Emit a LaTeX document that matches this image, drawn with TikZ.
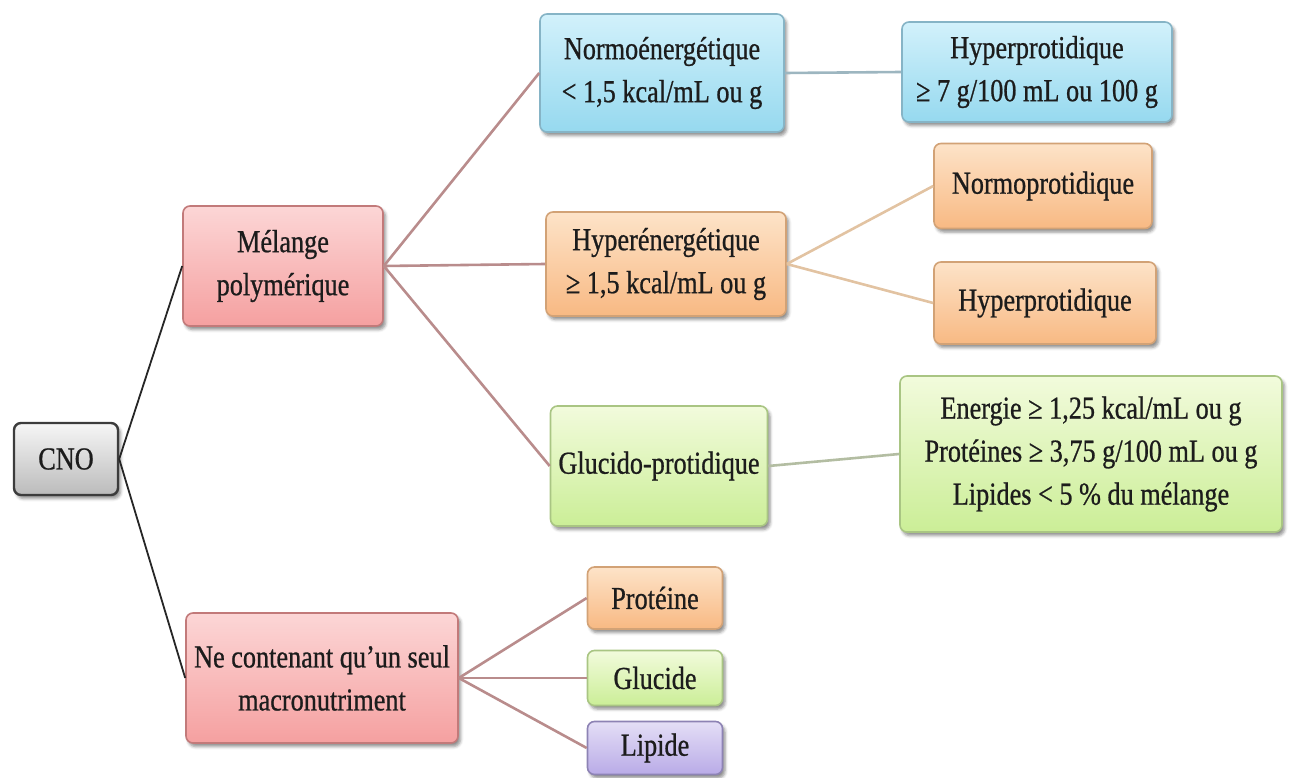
\documentclass[tikz,border=0pt]{standalone}
\usepackage{fontspec}
\setmainfont{Liberation Serif}[FakeStretch=0.82,FakeBold=0.7]
\usetikzlibrary{shadows.blur}
\newcommand\cnotxt{\fontsize{32}{43}\selectfont}
\definecolor{txt}{HTML}{1C1C1C}
\definecolor{pinkd}{HTML}{C27A7A}\definecolor{pinkt}{HTML}{FCD6D6}\definecolor{pinkb}{HTML}{F5A0A0}
\definecolor{blued}{HTML}{86B4C6}\definecolor{bluet}{HTML}{D2F1FB}\definecolor{blueb}{HTML}{96D9EF}
\definecolor{orad}{HTML}{D2A276}\definecolor{orat}{HTML}{FDE3C8}\definecolor{orab}{HTML}{F8B983}
\definecolor{greend}{HTML}{A9C583}\definecolor{greent}{HTML}{F2FBDC}\definecolor{greenb}{HTML}{CBEE97}
\definecolor{purd}{HTML}{8D83B4}\definecolor{purt}{HTML}{E4DEF6}\definecolor{purb}{HTML}{B9ABE7}
\definecolor{grayd}{HTML}{3C3C3C}\definecolor{grayt}{HTML}{F6F6F6}\definecolor{grayb}{HTML}{BBBBBB}
\definecolor{rosel}{HTML}{B98C8C}\definecolor{bluel}{HTML}{9DB6C0}\definecolor{tanl}{HTML}{E2C3A2}\definecolor{greenl}{HTML}{B3BDA2}
\tikzset{
  basebox/.style={draw, rounded corners=7pt, line width=1.6pt, align=center, inner sep=3pt,
    font=\cnotxt, text=txt,
    blur shadow={shadow xshift=2.5pt, shadow yshift=-3.5pt, shadow blur radius=3pt, shadow opacity=45}},
  pinkbox/.style={basebox, draw=pinkd, top color=pinkt, bottom color=pinkb},
  bluebox/.style={basebox, draw=blued, top color=bluet, bottom color=blueb},
  orabox/.style={basebox, draw=orad, top color=orat, bottom color=orab},
  greenbox/.style={basebox, draw=greend, top color=greent, bottom color=greenb},
  purbox/.style={basebox, draw=purd, top color=purt, bottom color=purb},
  graybox/.style={basebox, draw=grayd, line width=2.4pt, top color=grayt, bottom color=grayb},
  blackline/.style={draw=black!85, line width=1.8pt},
  roseline/.style={draw=rosel, line width=2.6pt},
  blueline/.style={draw=bluel, line width=2.6pt},
  tanline/.style={draw=tanl, line width=2.6pt},
  greenline/.style={draw=greenl, line width=2.6pt},
}
\begin{document}
\begin{tikzpicture}[x=1pt,y=-1pt]
\useasboundingbox (0,0) rectangle (1301,778);
\node[graybox, minimum width=104pt, minimum height=72pt] (cno) at (66,459) {CNO};
\node[pinkbox, minimum width=200pt, minimum height=120pt] (mel) at (283,266) {Mélange\\polymérique};
\node[pinkbox, minimum width=272pt, minimum height=130pt] (seul) at (322,678) {Ne contenant qu'un seul\\macronutriment};
\node[bluebox, minimum width=244pt, minimum height=118pt] (normo) at (662,73) {Normoénergétique\\< 1,5 kcal/mL ou g};
\node[bluebox, minimum width=270pt, minimum height=100pt] (hyp1) at (1037,72) {Hyperprotidique\\≥ 7 g/100 mL ou 100 g};
\node[orabox, minimum width=240pt, minimum height=104pt] (hyper) at (666,264) {Hyperénergétique\\≥ 1,5 kcal/mL ou g};
\node[orabox, minimum width=218pt, minimum height=85pt] (normop) at (1043,186) {Normoprotidique};
\node[orabox, minimum width=222pt, minimum height=82pt] (hyp2) at (1045,303) {Hyperprotidique};
\node[greenbox, minimum width=217pt, minimum height=120pt] (gluc) at (659,466) {Glucido-protidique};
\node[greenbox, minimum width=382pt, minimum height=156pt] (ener) at (1091,454) {Energie ≥ 1,25 kcal/mL ou g\\Protéines ≥ 3,75 g/100 mL ou g\\Lipides < 5 \% du mélange};
\node[orabox, minimum width=135pt, minimum height=62pt] (prot) at (655,598) {Protéine};
\node[greenbox, minimum width=135pt, minimum height=55pt] (glu) at (655,678) {Glucide};
\node[purbox, minimum width=135pt, minimum height=53pt] (lip) at (655,748) {Lipide};
\draw[blackline] (cno.east) -- (mel.west);
\draw[blackline] (cno.east) -- (seul.west);
\draw[roseline] (mel.east) -- (normo.west);
\draw[roseline] (mel.east) -- (hyper.west);
\draw[roseline] (mel.east) -- (gluc.west);
\draw[blueline] (normo.east) -- (hyp1.west);
\draw[tanline] (hyper.east) -- (normop.west);
\draw[tanline] (hyper.east) -- (hyp2.west);
\draw[greenline] (gluc.east) -- (ener.west);
\draw[roseline] (seul.east) -- (prot.west);
\draw[roseline] (seul.east) -- (glu.west);
\draw[roseline] (seul.east) -- (lip.west);
\end{tikzpicture}
\end{document}
